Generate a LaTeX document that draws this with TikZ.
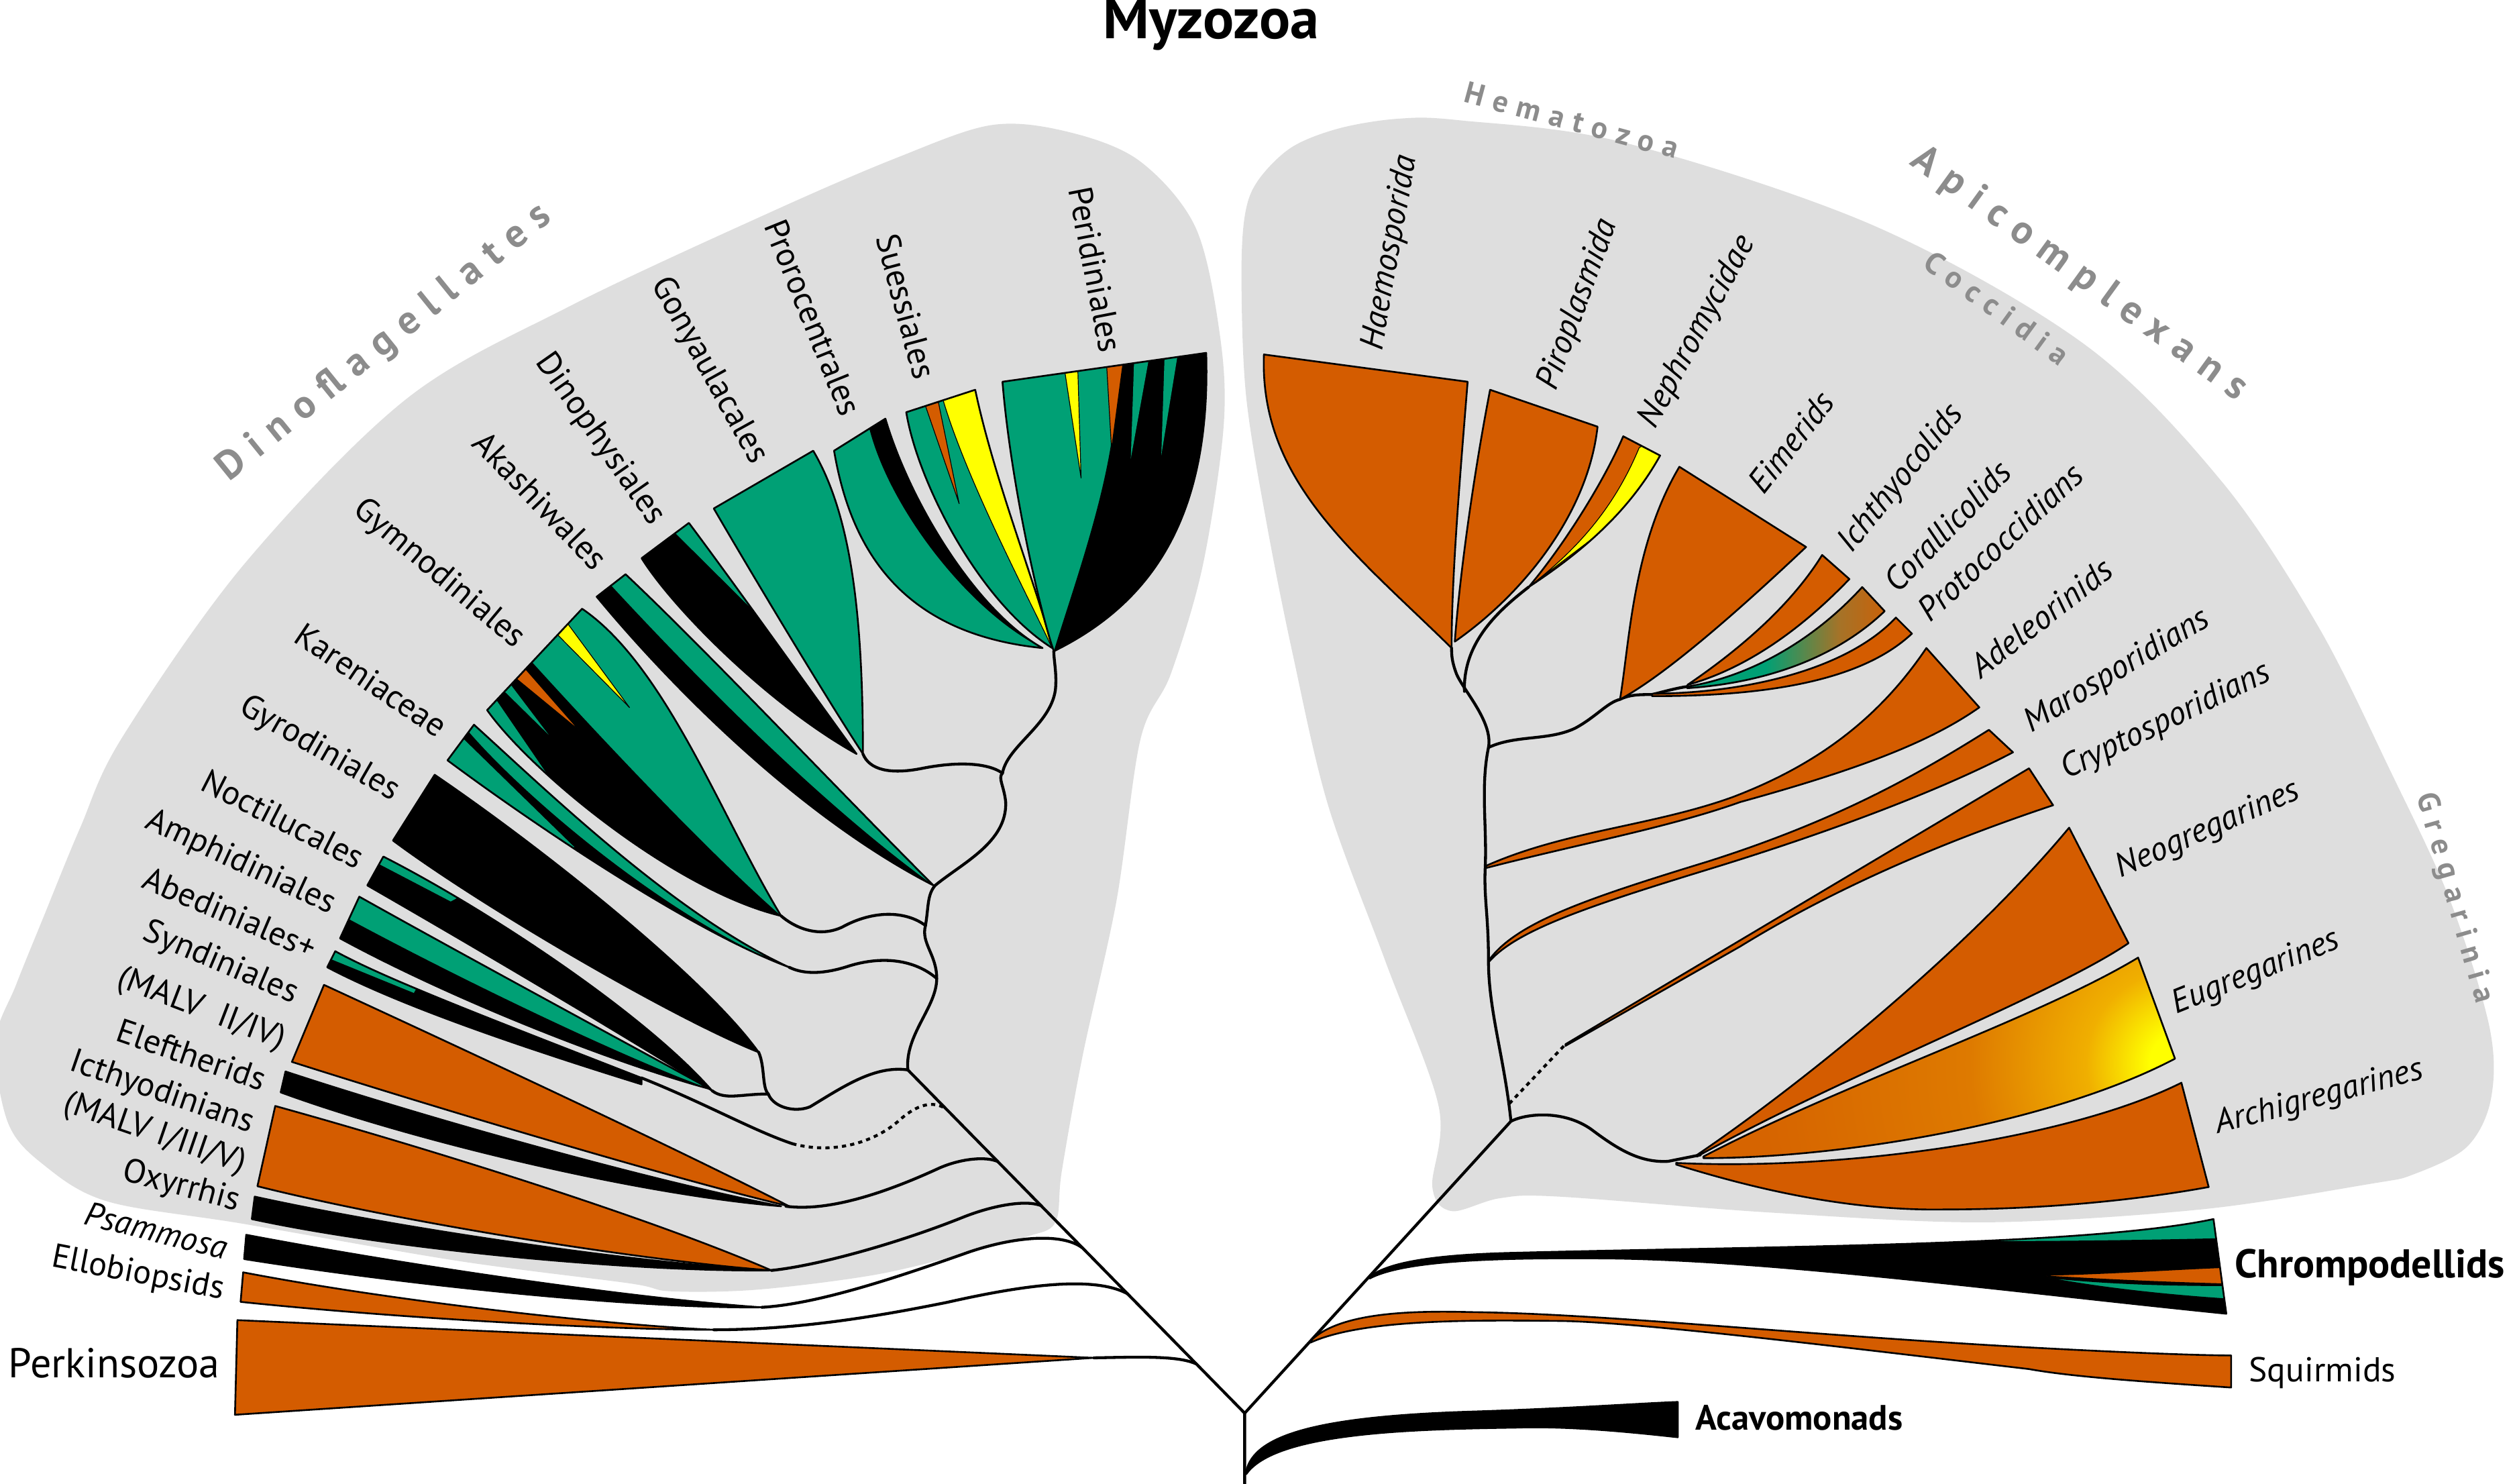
\documentclass[tikz,border=0pt]{standalone}
\usepackage{fontspec}
\setmainfont{PT Sans}
\newfontfamily\grpf{PT Sans}[LetterSpace=30]
\definecolor{org}{RGB}{212,92,0}
\definecolor{grn}{RGB}{0,160,117}
\definecolor{yel}{RGB}{255,255,0}
\definecolor{bgc}{RGB}{222,222,222}
\definecolor{grp}{RGB}{140,140,140}
\definecolor{brn}{RGB}{165,115,40}
\definecolor{eugo}{RGB}{214,100,0}
\definecolor{eugl}{RGB}{222,122,0}
\definecolor{eugm}{RGB}{240,175,0}
\pgfdeclarehorizontalshading{coral}{100bp}{color(0bp)=(grn); color(45bp)=(grn); color(63bp)=(brn); color(78bp)=(org); color(90bp)=(org); color(100bp)=(yel)}
\pgfdeclareradialshading{eug}{\pgfpoint{0bp}{0bp}}{color(0bp)=(yel); color(1.5bp)=(yel); color(4.5bp)=(eugm); color(10bp)=(eugl); color(20bp)=(eugo); color(50bp)=(eugo)}
\begin{document}
\begin{tikzpicture}[x=1pt,y=-1pt,
  br/.style={line width=1.8pt,line cap=round,line join=round},
  dotbr/.style={line width=1.8pt,dash pattern=on 2.6pt off 2.6pt},
  wdg/.style={line width=1.1pt,line join=round},
  thn/.style={line width=0.5pt,line join=round},
  lab/.style={inner sep=0pt,font=\fontsize{21}{21}\selectfont},
  rlab/.style={inner sep=0pt,font=\fontsize{21}{21}\selectfont\itshape},
  grpl/.style={inner sep=0pt,text=grp,font=\grpf\bfseries\fontsize{25}{25}\selectfont},
  grps/.style={inner sep=0pt,text=grp,font=\grpf\bfseries\fontsize{19}{19}\selectfont}]
\useasboundingbox (0,0) rectangle (1568,925);

% ---------------- gray group backgrounds ----------------
\fill[bgc] plot[smooth cycle,tension=0.55] coordinates {(-3,650) (10,614) (27,572) (50,516) (76,460) (152,352) (253,249) (355,191) (481,132) (560,98) (618,78) (665,82) (710,100) (745,141) (760,205) (763,264) (750,352) (730,420) (711,461) (696,562) (675,658) (662,730) (658,762) (640,771) (600,782) (544,795) (472,804) (418,805) (392,800) (285,786) (152,763) (67,749) (27,726) (5,700)};
\fill[bgc] plot[smooth cycle,tension=0.55] coordinates {(774,176) (776,135) (784,113) (805,92) (835,80) (872,74) (910,75) (1013,89) (1169,141) (1300,215) (1385,300) (1445,390) (1490,480) (1527,560) (1552,640) (1553,685) (1538,715) (1505,732) (1478,738) (1372,754) (1238,762) (1105,756) (972,746) (935,747) (905,755) (893,740) (897,690) (864,600) (828,502) (806,408) (790,328) (777,248)};

% ---------------- tree nodes ----------------
\coordinate (root) at (776,881);
\coordinate (rbot) at (776,925);
\coordinate (ltop) at (566,667);
\coordinate (rj) at (942,699);
\coordinate (hema) at (905,404);
\coordinate (pzero) at (657,406);
\coordinate (pone) at (538,470);
\coordinate (gnode) at (1040,724);

% ---------------- branches ----------------
\draw[br] (rbot) -- (root) -- (ltop) .. controls (564,645) and (584,628) .. (584,610) .. controls (584,595) and (574,588) .. (577,577) .. controls (579,565) and (578,558) .. (583,552) .. controls (600,538) and (628,525) .. (627,500) .. controls (626,490) and (622,485) .. (625,482) .. controls (628,465) and (655,452) .. (658,430) .. controls (659,420) and (657,412) .. (pzero);
\draw[br] (root) -- (rj) .. controls (938,660) and (928,630) .. (928,599) .. controls (928,570) and (925,560) .. (926,540) .. controls (927,515) and (923,490) .. (928,466) .. controls (931,450) and (912,430) .. (908,420) .. controls (905,412) and (905,408) .. (hema);
% left side links
\draw[br] (682,846.5) .. controls (710,846) and (735,845) .. (746,850.4);
\draw[br] (445,829) .. controls (500,829) and (550,820) .. (590,812) .. controls (630,803) and (680,794) .. (703,806.6);
\draw[br] (475,815) .. controls (510,813) and (560,796) .. (600,782) .. controls (630,771) and (662,768) .. (675,778.1);
\draw[br] (481,792) .. controls (510,789) and (560,775) .. (600,759) .. controls (620,751) and (640,748) .. (649,751.6);
\draw[br] (490,752) .. controls (520,756) and (560,740) .. (586,728) .. controls (600,722) and (615,721) .. (622,724.1);
\draw[br] (400,672) .. controls (440,688) and (470,705) .. (494,713);
\draw[dotbr] (494,713) .. controls (520,720) and (545,712) .. (560,699) .. controls (572,688) and (582,686) .. (590,691.4);
\draw[br] (473,656) .. controls (477,665) and (475,678) .. (479,682);
\draw[br] (444,680) .. controls (452,686) and (462,682) .. (479,682) .. controls (482,690) and (495,694) .. (505,690) .. controls (525,678) and (545,664) .. (ltop);
\draw[br] (492,603) .. controls (500,607) and (512,608) .. (530,602) .. controls (550,596) and (570,598) .. (584,610);
\draw[br] (487,571) .. controls (495,578) and (510,585) .. (525,578) .. controls (545,567) and (565,568) .. (577,577);
\draw[br] (pone) .. controls (542,480) and (555,483) .. (575,479) .. controls (595,475) and (615,475) .. (625,482);
% right side links
\draw[br] (rj) .. controls (952,694) and (975,692) .. (992,704) .. controls (1008,716) and (1022,725) .. (gnode) -- (1060,720);
\draw[dotbr] (941,688) -- (976,651);
\draw[br] (953,366) .. controls (935,380) and (912,400) .. (913,431);
\draw[br] (928,466) .. controls (945,458) and (965,462) .. (982,454) .. controls (995,447) and (1002,438) .. (1010,436) .. controls (1016,433) and (1022,433) .. (1030,433) .. controls (1038,431) and (1045,429) .. (1052,428);

% ---------------- left wedges ----------------
\filldraw[wdg,fill=org] (682,846.5) -- (148,823) -- (146.5,882) -- cycle;
\filldraw[wdg,fill=org] (445,829) .. controls (380,829) and (250,822) .. (150,811.6) -- (151.6,793.2) .. controls (250,812) and (380,826) .. cycle;
\filldraw[wdg,fill=black] (475,815) .. controls (400,816) and (260,802) .. (152.2,784.9) -- (153.5,769.8) .. controls (260,790) and (400,810) .. cycle;
\filldraw[wdg,fill=black] (481,792) .. controls (400,793) and (250,780) .. (157,760) -- (158.8,746) .. controls (250,766) and (400,788) .. cycle;
\filldraw[wdg,fill=org] (481,792) .. controls (400,786) and (250,762) .. (160.5,739.5) -- (171.6,689.5) .. controls (260,714) and (400,757) .. cycle;
\filldraw[wdg,fill=black] (487,752) .. controls (400,745) and (260,712) .. (175,681) -- (178,668) .. controls (260,695) and (400,735) .. cycle;
\filldraw[wdg,fill=org] (492,752) .. controls (420,735) and (270,690) .. (182,662) -- (202,614) .. controls (280,650) and (420,715) .. cycle;
% Syndiniales thin
\def\pSyn{(400,676) .. controls (300,645) and (240,622) .. (204,603) -- (209,593) .. controls (240,610) and (300,633) .. (400,672) -- cycle}
\begin{scope}\clip \pSyn; \fill[black] (190,580) rectangle (410,690); \fill[grn] (206.5,598) -- (212,588) -- (262,612) -- (258,619) -- cycle; \end{scope}
\draw[wdg] \pSyn;
% Abediniales+
\def\pAbe{(443,679) .. controls (380,662) and (280,622) .. (212,585) -- (224,559) .. controls (290,596) and (390,650) .. cycle}
\begin{scope}\clip \pAbe; \fill[grn] (200,550) rectangle (450,690); \fill[black] (212,585) -- (217.5,573) .. controls (290,612) and (390,660) .. (443,679) -- (440,700) -- (200,600) -- cycle; \end{scope}
\draw[wdg] \pAbe;
% Amphidiniales
\def\pAmp{(444,680) .. controls (400,630) and (300,565) .. (239,534) -- (229,552) .. controls (290,587) and (390,646) .. cycle}
\begin{scope}\clip \pAmp; \fill[black] (220,520) rectangle (450,690); \fill[grn] (236.4,538.7) -- (241,529) -- (292,556) -- (281,562) -- cycle; \end{scope}
\draw[wdg] \pAmp;
% Noctilucales
\filldraw[wdg,fill=black] (473,656) .. controls (420,635) and (300,565) .. (245,524) -- (271,483) .. controls (340,530) and (440,610) .. cycle;
% Kareniaceae
\def\pKar{(492,603) .. controls (430,580) and (330,512) .. (279,474) -- (295.5,451.8) .. controls (340,492) and (420,570) .. cycle}
\begin{scope}\clip \pKar; \fill[grn] (270,440) rectangle (500,610);
\fill[black] (292,456) .. controls (330,500) and (420,575) .. (492,603) -- (480,620) -- (270,480) -- (280,460) -- cycle;
\fill[grn] (275,479) -- (289,460.7) -- (358,528) -- (340,540) -- cycle; \end{scope}
\draw[wdg] \pKar;
% Gymnodiniales
\def\pGym{(487,571) .. controls (420,555) and (330,480) .. (303.7,442.7) -- (362.9,379.5) .. controls (415,415) and (450,510) .. cycle}
\begin{scope}\clip \pGym; \fill[grn] (290,370) rectangle (495,580);
\fill[black] (331.7,412.8) .. controls (370,455) and (440,530) .. (487,571) -- (480,600) -- (290,460) -- (300,430) -- cycle;
\fill[grn] (298,448) -- (309.5,436.5) -- (342,484) -- (330,495) -- cycle;
\fill[grn] (314.5,431) -- (318.5,427) -- (342,458) -- cycle;
\filldraw[thn,fill=org] (322,423.2) -- (327.7,417.1) -- (361.3,455.5) -- cycle;
\filldraw[thn,fill=yel] (347.7,395.8) -- (354.1,389) -- (392.5,441.1) -- cycle; \end{scope}
\draw[wdg] \pGym;
% Akashiwales
\def\pAka{(582,552) .. controls (500,510) and (420,430) .. (372,372) -- (390,358) .. controls (440,405) and (520,490) .. cycle}
\begin{scope}\clip \pAka; \fill[grn] (360,350) rectangle (590,560);
\fill[black] (372,372) -- (381,365) .. controls (430,418) and (510,500) .. (582,552) -- (560,575) -- (355,385) -- cycle; \end{scope}
\draw[wdg] \pAka;
% Dinophysiales
\def\pDin{(534,470) .. controls (480,440) and (420,380) .. (400,348) -- (429.5,326) .. controls (455,360) and (505,430) .. cycle}
\begin{scope}\clip \pDin; \fill[black] (390,320) rectangle (540,475);
\fill[grn] (421,332.3) -- (430,318) -- (492,372) -- (469,380) -- cycle; \end{scope}
\draw[wdg] \pDin;
% Gonyaulacales
\filldraw[wdg,fill=grn] (pone) .. controls (515,435) and (470,360) .. (445,317) -- (507,281) .. controls (530,320) and (538,380) .. cycle;
% Prorocentrales
\def\pPro{(650,404) .. controls (560,395) and (530,340) .. (520,281) -- (552,261) .. controls (568,315) and (610,382) .. cycle}
\begin{scope}\clip \pPro; \fill[grn] (510,250) rectangle (660,410);
\fill[black] (542,267.2) -- (556,252) -- (668,410) -- (650,404) .. controls (605,382) and (555,318) .. (542,267.2) -- cycle; \end{scope}
\draw[wdg] \pPro;
% Suessiales
\def\pSue{(656,404) .. controls (610,375) and (572,300) .. (565,257) -- (608,243) .. controls (620,300) and (648,370) .. cycle}
\begin{scope}\clip \pSue; \fill[grn] (555,235) rectangle (665,410);
\filldraw[thn,fill=org] (577,253.1) -- (585,250.5) -- (598,314) -- cycle;
\filldraw[thn,fill=yel] (588,249.5) -- (615,236) -- (676,410) -- (655,402) .. controls (640,370) and (603,300) .. (588,249.5) -- cycle; \end{scope}
\draw[wdg] \pSue;
% Peridiniales
\def\pPeri{(657,406) .. controls (648,380) and (630,300) .. (625,238) -- (752,220) .. controls (755,320) and (720,375) .. cycle}
\begin{scope}\clip \pPeri; \fill[grn] (615,210) rectangle (765,415);
\fill[black] (695,228) -- (770,210) -- (770,430) -- (657,406) .. controls (668,370) and (686,320) .. (693,275) -- cycle;
\filldraw[thn,fill=org] (690,228.8) -- (700,227.4) -- (693,280) -- cycle;
\fill[grn] (707,226.4) -- (716,225.1) -- (705,286) -- cycle;
\fill[grn] (726,223.7) -- (734,222.5) -- (724,284) -- cycle;
\filldraw[thn,fill=yel] (664,232.5) -- (672,231.3) -- (674,298) -- cycle; \end{scope}
\draw[wdg] \pPeri;

% ---------------- right wedges ----------------
\filldraw[wdg,fill=org] (hema) .. controls (845,345) and (785,300) .. (788,221) -- (915,238) .. controls (910,300) and (905,360) .. cycle;
\filldraw[wdg,fill=org] (907,400) .. controls (910,360) and (918,300) .. (929,243) -- (996,266) .. controls (990,320) and (950,370) .. cycle;
\def\pNep{(953,366) .. controls (975,340) and (1000,300) .. (1012,272) -- (1035,284) .. controls (1015,320) and (985,345) .. cycle}
\begin{scope}\clip \pNep; \fill[org] (940,260) rectangle (1040,370);
\filldraw[thn,fill=yel] (953,366) .. controls (980,345) and (1005,320) .. (1022,279) -- (1040,270) -- (1040,300) -- cycle; \end{scope}
\draw[wdg] \pNep;
\filldraw[wdg,fill=org] (1010,436) .. controls (1016,400) and (1018,340) .. (1047,291) -- (1126,341) .. controls (1090,375) and (1040,420) .. cycle;
\filldraw[wdg,fill=org] (1052,427) .. controls (1080,408) and (1115,380) .. (1136,346) -- (1153,361) .. controls (1130,385) and (1095,415) .. cycle;
\def\pCor{(1052,428) .. controls (1090,422) and (1130,400) .. (1161,366) -- (1175,381) .. controls (1150,405) and (1110,425) .. (1052,429) -- cycle}
\begin{scope}\clip \pCor; \shade[shading=coral] (1050,360) rectangle (1177,432); \end{scope}
\draw[wdg] \pCor;
\filldraw[wdg,fill=org] (1030,432.5) .. controls (1090,432) and (1152,417) .. (1182,385) -- (1192,395) .. controls (1160,425) and (1100,434) .. (1030,434) -- cycle;
\filldraw[wdg,fill=org] (926,540) .. controls (975,518) and (1030,515) .. (1080,497) .. controls (1130,478) and (1170,450) .. (1201,404) -- (1234,441) .. controls (1200,465) and (1150,482) .. (1085,500) .. controls (1040,516) and (985,526) .. (927,541) -- cycle;
\filldraw[wdg,fill=org] (928,599) .. controls (945,575) and (990,560) .. (1065,537) .. controls (1150,510) and (1200,480) .. (1240,455) -- (1255,469) .. controls (1215,490) and (1150,516) .. (1065,542) .. controls (990,565) and (945,580) .. (928,600) -- cycle;
\filldraw[wdg,fill=org] (976,651) -- (1265,479) -- (1280,502) .. controls (1220,522) and (1150,550) .. (1085,590) -- (976,652) -- cycle;
% gregarines
\filldraw[wdg,fill=org] (1058,720) .. controls (1110,685) and (1220,600) .. (1290,516) -- (1327,588) .. controls (1280,620) and (1150,670) .. (1058,721) -- cycle;
\def\pEug{(1062,721) .. controls (1150,675) and (1270,635) .. (1333,597) -- (1356,660) .. controls (1280,700) and (1150,722) .. (1062,722) -- cycle}
\begin{scope}\clip \pEug; \fill[eugo] (1055,590) rectangle (1360,725); \shade[shading=eug] (1360,663) circle (330); \end{scope}
\draw[wdg] \pEug;
\filldraw[wdg,fill=org] (1045,725) .. controls (1150,730) and (1290,710) .. (1360,675) -- (1377,740) .. controls (1350,745) and (1290,754) .. (1212,754) .. controls (1150,755) and (1090,740) .. (1045,726) -- cycle;
% Chrompodellids
\def\pChr{(854,796) .. controls (866,786) and (900,782) .. (945,781) .. controls (1100,777) and (1300,777) .. (1380,760) -- (1388,819) .. controls (1250,805) and (1100,785) .. (998,784.5) .. controls (930,784) and (875,786) .. (854,797) -- cycle}
\begin{scope}\clip \pChr; \fill[black] (850,750) rectangle (1395,825);
\fill[grn] (1230,774) .. controls (1300,774) and (1350,773) .. (1392,772) -- (1392,740) -- (1230,760) -- cycle;
\draw[thn] (1230,774) .. controls (1300,774) and (1350,773) .. (1392,772);
\filldraw[thn,fill=org] (1276,795) .. controls (1320,794) and (1360,791) .. (1392,790) -- (1392,800.5) .. controls (1350,799.5) and (1310,797.5) .. (1276,795.5) -- cycle;
\filldraw[thn,fill=grn] (1276,796.5) .. controls (1320,801) and (1360,801.5) .. (1392,801.5) -- (1392,810) .. controls (1345,807) and (1305,802) .. (1276,796.5) -- cycle; \end{scope}
\draw[wdg] \pChr;
% Squirmids
\filldraw[wdg,fill=org] (817,836) .. controls (835,818) and (880,817) .. (918,818) .. controls (1000,819) and (1120,832) .. (1265,840) .. controls (1320,843) and (1370,845) .. (1391,845) -- (1391,865) .. controls (1330,861) and (1290,858) .. (1265,853.5) .. controls (1150,840) and (1020,824) .. (972,823.5) .. controls (920,823) and (850,822) .. (817,837) -- cycle;
% Acavomonads
\filldraw[wdg,fill=black] (777,917) .. controls (782,895) and (820,883) .. (918,880) .. controls (980,878) and (1020,875) .. (1046,874) -- (1046,896) .. controls (1010,892) and (975,889) .. (945,890) .. controls (880,891) and (795,893) .. (777,919) -- cycle;

% ---------------- labels ----------------
\node[inner sep=0pt,font=\bfseries\fontsize{36}{36}\selectfont] (title) at (755,15) {Myzozoa};
\node[grpl,rotate=39] (gDino) at (240,214) {Dinoflagellates};
\node[grps,rotate=-15] (gHema) at (980,75) {Hematozoa};
\node[grpl,rotate=-36] (gApi) at (1296,171) {Apicomplexans};
\node[grps,rotate=-36] (gCoc) at (1245,192) {Coccidia};
\node[grps,rotate=-74] (gGre) at (1530,560) {Gregarinia};

\node[lab,rotate=-79] (tPeri) at (683,168) {Peridiniales};
\node[lab,rotate=-75] (tSue) at (565,191) {Suessiales};
\node[lab,rotate=-68] (tPro) at (507,198) {Prorocentrales};
\node[lab,rotate=-61] (tGon) at (442,231) {Gonyaulacales};
\node[lab,rotate=-55] (tDin) at (374,274) {Dinophysiales};
\node[lab,rotate=-46] (tAka) at (337,312) {Akashiwales};
\node[lab,rotate=-40] (tGym) at (273.5,358) {Gymnodiniales};
\node[lab,rotate=-34] (tKar) at (231.5,424) {Kareniaceae};
\node[lab,rotate=-30] (tGyr) at (199,467) {Gyrodiniales};
\node[lab,rotate=-27] (tNoc) at (176.5,510.5) {Noctilucales};
\node[lab,rotate=-25] (tAmp) at (150,538) {Amphidiniales};
\node[lab,rotate=-23] (tAbe) at (143.5,569) {Abediniales+};
\node[lab,rotate=-23] (tSyn) at (137.5,600.5) {Syndiniales};
\node[lab,rotate=-21] (tSynb) at (125.5,629.5) {(MALV\ \ II/IV)};
\node[lab,rotate=-19] (tEle) at (119.5,657.5) {Eleftherids};
\node[lab,rotate=-19] (tIct) at (101,681.5) {Icthyodinians};
\node[lab,rotate=-19] (tIctb) at (96.5,707) {(MALV I/III/V)};
\node[lab,rotate=-15] (tOxy) at (113,740) {Oxyrrhis};
\node[rlab,rotate=-14] (tPsa) at (97.5,767) {Psammosa};
\node[lab,rotate=-11] (tEll) at (86,794.5) {Ellobiopsids};
\node[inner sep=0pt,anchor=west,font=\fontsize{26}{26}\selectfont] (tPer) at (5,850) {Perkinsozoa};

\node[rlab,rotate=80] (tHae) at (867,157.5) {Haemosporida};
\node[rlab,rotate=70] (tPir) at (984,190) {Piroplasmida};
\node[rlab,rotate=62] (tNep) at (1058.5,207) {Nephromycidae};
\node[rlab,rotate=52] (tEim) at (1116.5,275.5) {Eimerids};
\node[rlab,rotate=51] (tIch) at (1185.5,298.5) {Ichthyocolids};
\node[rlab,rotate=46] (tCor) at (1214,328) {Corallicolids};
\node[rlab,rotate=43] (tPrc) at (1247,338) {Protococcidians};
\node[rlab,rotate=38] (tAde) at (1272.5,385) {Adeleorinids};
\node[rlab,rotate=31] (tMar) at (1320,418.5) {Marosporidians};
\node[rlab,rotate=26] (tCry) at (1350.5,450) {Cryptosporidians};
\node[rlab,rotate=24] (tNeo) at (1376.5,517.5) {Neogregarines};
\node[rlab,rotate=22] (tEug) at (1406.5,606.5) {Eugregarines};
\node[rlab,rotate=15] (tArc) at (1446,684.5) {Archigregarines};
\node[inner sep=0pt,anchor=west,font=\bfseries\fontsize{25}{25}\selectfont] (tChr) at (1393,790) {Chrompodellids};
\node[inner sep=0pt,anchor=west,font=\fontsize{21.5}{21.5}\selectfont] (tSqu) at (1402,856) {Squirmids};
\node[inner sep=0pt,anchor=west,font=\bfseries\fontsize{22}{22}\selectfont] (tAca) at (1057,884) {Acavomonads};
\end{tikzpicture}
\end{document}
